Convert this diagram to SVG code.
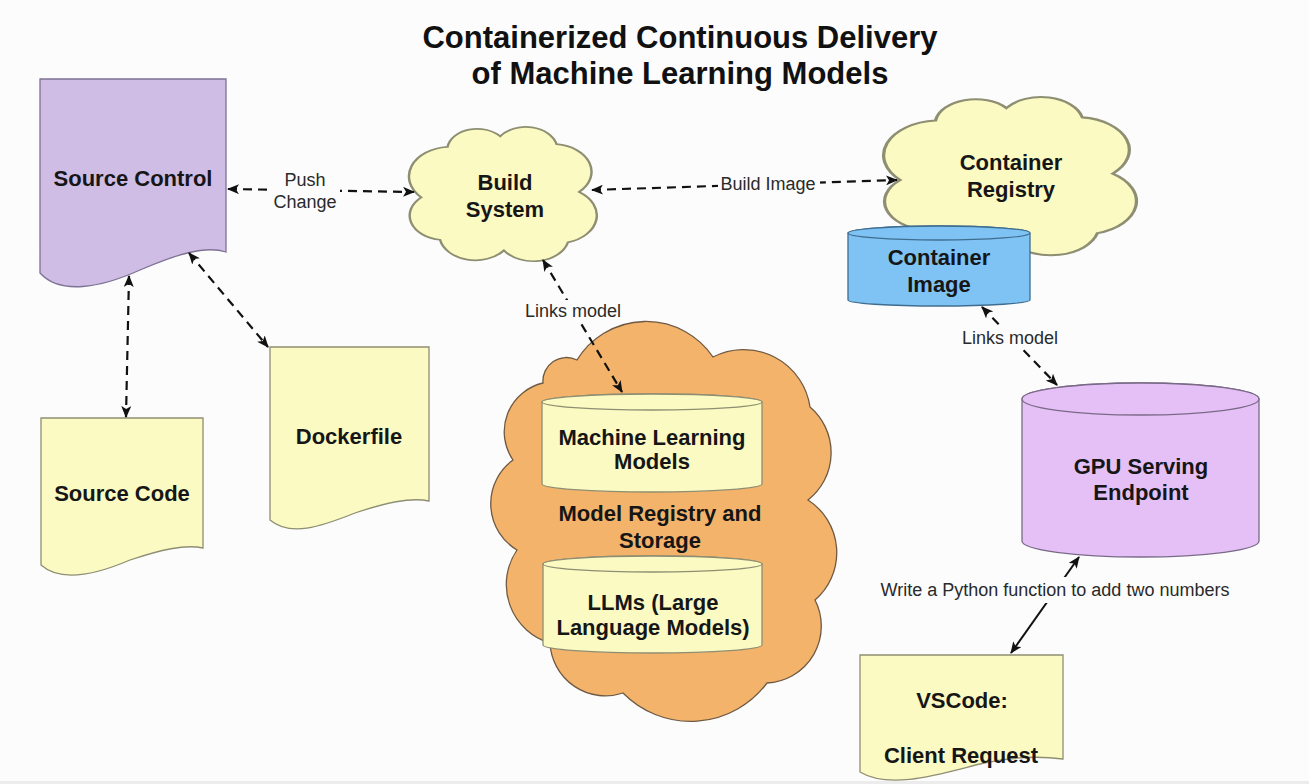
<svg xmlns="http://www.w3.org/2000/svg" width="1309" height="784" viewBox="0 0 1309 784">
<defs>
<style>
.title{font-family:"Liberation Sans",Arial,sans-serif;font-weight:bold;font-size:31px;fill:#111;text-anchor:middle}
.nt{font-family:"Liberation Sans",Arial,sans-serif;font-weight:bold;font-size:22px;fill:#161616;text-anchor:middle}
.lbl{font-family:"Liberation Sans",Arial,sans-serif;font-size:18px;fill:#2a2a2a;text-anchor:middle}
.yel{fill:#fbfac2;stroke:#8e8e72;stroke-width:1.3}
.dash{fill:none;stroke:#111;stroke-width:2.2;stroke-dasharray:9 6;marker-start:url(#ah);marker-end:url(#ah)}
.solid{fill:none;stroke:#111;stroke-width:2;marker-start:url(#ah);marker-end:url(#ah)}
.bg{fill:#fcfcfc}
</style>
<marker id="ah" viewBox="0 0 12 10" refX="11" refY="5" markerWidth="12" markerHeight="10" markerUnits="userSpaceOnUse" orient="auto-start-reverse">
<path d="M0,0 L12,5 L0,10 L3,5 Z" fill="#111"/>
</marker>
<path id="cloud" d="M8 52 A22.3 22.3 0 0 1 22 14 A16 16 0 0 1 50 6 A16.8 16.8 0 0 1 80 12 A20.9 20.9 0 0 1 92 48 A21.2 21.2 0 0 1 86 86 A19 19 0 0 1 52 92 A19.2 19.2 0 0 1 18 84 A18.4 18.4 0 0 1 8 52 Z"/>
</defs>
<rect width="1309" height="784" fill="#fcfcfc"/>
<rect y="781" width="1309" height="3" fill="#ececec"/>

<g id="title">
<text class="title" x="680" y="48">Containerized Continuous Delivery</text>
<text class="title" x="680" y="84">of Machine Learning Models</text>
</g>

<g id="source-control">
<path d="M40 79 H226 V252 C205 245 175 255 140 270 C100 288 60 295 40 273 Z" fill="#cfbde6" stroke="#7d7294" stroke-width="1.3"/>
<text class="nt" x="133" y="186" fill="#1a0f26">Source Control</text>
</g>

<g id="source-code">
<path class="yel" d="M41 418 H203 V548 C185 544 160 550 130 560 C95 575 60 582 41 565 Z"/>
<text class="nt" x="122" y="501">Source Code</text>
</g>

<g id="dockerfile">
<path class="yel" d="M270 347 H429 V501 C410 497 385 503 355 513 C320 527 290 537 270 520 Z"/>
<text class="nt" x="349" y="444">Dockerfile</text>
</g>

<g id="build-system">
<use href="#cloud" transform="translate(406.2 128.3) scale(1.88 1.327)" fill="#fbfac2" stroke="#8e8e72" stroke-width="1.3" style="vector-effect:non-scaling-stroke"/>
<text class="nt" x="505" y="190">Build</text>
<text class="nt" x="505" y="217">System</text>
</g>

<g id="container-registry">
<use href="#cloud" transform="translate(879.9 98.6) scale(2.53 1.564)" fill="#fbfac2" stroke="#8e8e72" stroke-width="1.3" style="vector-effect:non-scaling-stroke"/>
<text class="nt" x="1011" y="170">Container</text>
<text class="nt" x="1011" y="197">Registry</text>
</g>

<g id="container-image">
<path d="M848 233 V300 A91 6 0 0 0 1030 300 V233 A91 7 0 0 0 848 233 Z" fill="#7ec3f4" stroke="#3f6d90" stroke-width="1.3"/>
<ellipse cx="939" cy="233" rx="91" ry="7" fill="#7ec3f4" stroke="#3f6d90" stroke-width="1.3"/>
<text class="nt" x="939" y="265">Container</text>
<text class="nt" x="939" y="292">Image</text>
</g>

<g id="model-registry">
<path d="M577 360 A81 81 0 0 1 713 357 A67 67 0 0 1 810 407 A60 60 0 0 1 808 500 A62.5 62.5 0 0 1 815 600 A57 57 0 0 1 767 683 A95 95 0 0 1 623 693 A55.5 55.5 0 0 1 550 643 A61 61 0 0 1 517 550 A54 54 0 0 1 513 460 A50 50 0 0 1 543 383 A23.5 23.5 0 0 1 577 360 Z" fill="#f4b36b" stroke="#6e5a44" stroke-width="1.3"/>
<text class="nt" x="660" y="521" fill="#2a1608">Model Registry and</text>
<text class="nt" x="660" y="548" fill="#2a1608">Storage</text>
</g>

<g id="ml-models">
<path d="M542 402 V484 A110 8 0 0 0 762 484 V402 A110 8 0 0 0 542 402 Z" fill="#fbfac2" stroke="#8e8e72" stroke-width="1.3"/>
<ellipse cx="652" cy="402" rx="110" ry="8" fill="#fbfac2" stroke="#8e8e72" stroke-width="1.3"/>
<text class="nt" x="652" y="445">Machine Learning</text>
<text class="nt" x="652" y="469">Models</text>
</g>

<g id="llms">
<path d="M543 564 V645 A109.5 8 0 0 0 762 645 V564 A109.5 8 0 0 0 543 564 Z" fill="#fbfac2" stroke="#8e8e72" stroke-width="1.3"/>
<ellipse cx="652.5" cy="564" rx="109.5" ry="8" fill="#fbfac2" stroke="#8e8e72" stroke-width="1.3"/>
<text class="nt" x="653" y="610">LLMs (Large</text>
<text class="nt" x="653" y="635">Language Models)</text>
</g>

<g id="gpu-endpoint">
<path d="M1022 399 V541 A118.5 16 0 0 0 1259 541 V399 A118.5 16 0 0 0 1022 399 Z" fill="#e5c0f7" stroke="#7a6a88" stroke-width="1.3"/>
<ellipse cx="1140.5" cy="399" rx="118.5" ry="16" fill="#e5c0f7" stroke="#7a6a88" stroke-width="1.3"/>
<text class="nt" x="1141" y="474" fill="#1e0f28">GPU Serving</text>
<text class="nt" x="1141" y="500" fill="#1e0f28">Endpoint</text>
</g>

<g id="vscode">
<path class="yel" d="M860 655 H1063 V759 C1040 756 1010 757 980 764 C940 774 890 790 860 772 Z"/>
<text class="nt" x="962" y="708">VSCode:</text>
<text class="nt" x="961" y="763">Client Request</text>
</g>

<g id="connectors">
<path class="dash" d="M228 189 L414 192"/>
<rect class="bg" x="272" y="170" width="68" height="42"/>
<text class="lbl" x="305" y="186">Push</text>
<text class="lbl" x="305" y="208">Change</text>

<path class="dash" d="M592 190 L897 180"/>
<rect class="bg" x="718" y="172" width="102" height="24"/>
<text class="lbl" x="768" y="190">Build Image</text>

<path class="dash" d="M129 276 L126 417"/>
<path class="dash" d="M189 253 L268 347"/>

<path class="dash" d="M543 260 L622 392"/>
<rect class="bg" x="523" y="300" width="100" height="22"/>
<text class="lbl" x="573" y="317">Links model</text>

<path class="dash" d="M982 307 L1057 385"/>
<rect class="bg" x="960" y="327" width="100" height="22"/>
<text class="lbl" x="1010" y="344">Links model</text>

<path class="solid" d="M1079 557 L1011 653"/>
<rect class="bg" x="874" y="577" width="364" height="26"/>
<text class="lbl" x="1055" y="596">Write a Python function to add two numbers</text>
</g>
</svg>
